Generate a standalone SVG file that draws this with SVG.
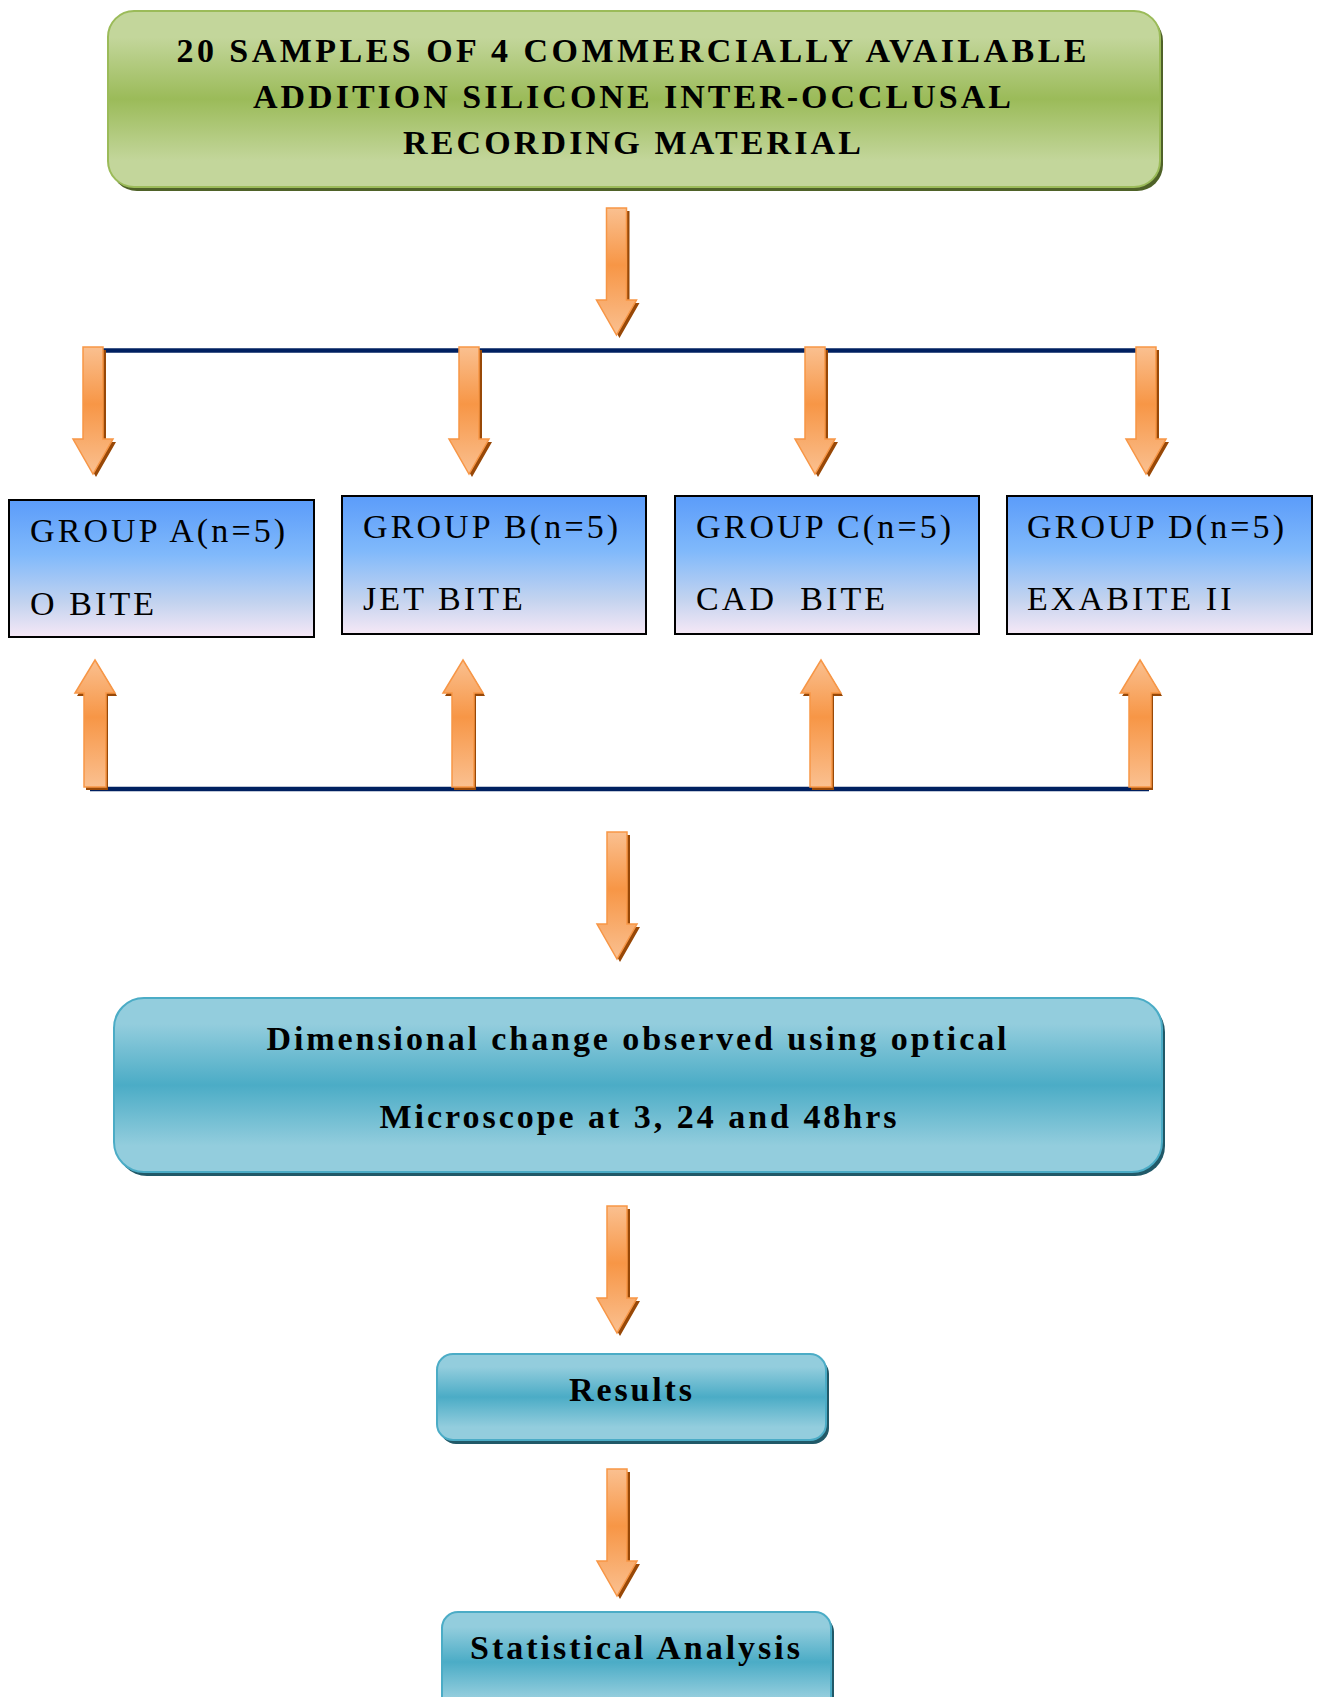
<svg xmlns="http://www.w3.org/2000/svg" xmlns:xlink="http://www.w3.org/1999/xlink" width="1320" height="1697" viewBox="0 0 1320 1697">
<style>
.bold{font-family:"Liberation Serif","Times New Roman",serif;font-weight:bold;font-size:34px;fill:#000}
.reg{font-family:"Liberation Serif","Times New Roman",serif;font-size:34px;letter-spacing:3.1px;fill:#000}
.grp{fill:url(#gBlue);stroke:#000;stroke-width:2}
.line{stroke:#002060;stroke-width:4.5;fill:none}
.arrow{fill:url(#gOrange);stroke:#f79646;stroke-width:1.5}
.ashadow{fill:#984807}
</style>
<defs>
<linearGradient id="gGreen" x1="0" y1="0" x2="0" y2="1">
<stop offset="0" stop-color="#c3d69b"/><stop offset="0.15" stop-color="#c3d69b"/><stop offset="0.5" stop-color="#9bbb59"/><stop offset="0.85" stop-color="#c3d69b"/><stop offset="1" stop-color="#c3d69b"/>
</linearGradient>
<linearGradient id="gTeal" x1="0" y1="0" x2="0" y2="1">
<stop offset="0" stop-color="#93cddd"/><stop offset="0.15" stop-color="#93cddd"/><stop offset="0.5" stop-color="#4bacc6"/><stop offset="0.85" stop-color="#93cddd"/><stop offset="1" stop-color="#93cddd"/>
</linearGradient>
<linearGradient id="gBlue" x1="0" y1="0" x2="0" y2="1">
<stop offset="0" stop-color="#5b9cfa"/><stop offset="0.4" stop-color="#80b9fb"/><stop offset="0.75" stop-color="#c3d3ef"/><stop offset="1" stop-color="#f6e8f6"/>
</linearGradient>
<linearGradient id="gOrange" x1="0" y1="0" x2="0" y2="1">
<stop offset="0" stop-color="#fac090"/><stop offset="0.45" stop-color="#f79646"/><stop offset="1" stop-color="#fac090"/>
</linearGradient>
<g id="arrowDown">
<path class="ashadow" d="M-7,3 H13 V95 H23 L3,130 L-17,95 H-7 Z"/>
<path class="arrow" d="M-10,0 H10 V92 H20 L0,127 L-20,92 H-10 Z"/>
</g>
<g id="arrowUp">
<path class="ashadow" d="M2,3 L22,36 H13 V130 H-9 V36 H-18 Z"/>
<path class="arrow" d="M0,0 L20,33 H11 V127 H-11 V33 H-20 Z"/>
</g>
</defs>
<rect width="1320" height="1697" fill="#fff"/>

<g id="connectors">
<line class="line" x1="100" y1="350.5" x2="1136" y2="350.5"/>
<line class="line" x1="90" y1="789" x2="1149" y2="789"/>
<use href="#arrowDown" x="616.5" y="208"/>
<use href="#arrowDown" x="93" y="347"/>
<use href="#arrowDown" x="469" y="347"/>
<use href="#arrowDown" x="815" y="347"/>
<use href="#arrowDown" x="1146" y="347"/>
<use href="#arrowUp" x="95" y="660"/>
<use href="#arrowUp" x="463" y="660"/>
<use href="#arrowUp" x="821" y="660"/>
<use href="#arrowUp" x="1140" y="660"/>
<use href="#arrowDown" x="617" y="832"/>
<use href="#arrowDown" x="617" y="1206"/>
<use href="#arrowDown" x="617" y="1469"/>
</g>

<g id="node-samples">
<rect x="111" y="15" width="1052" height="176" rx="26" fill="#4f6228"/>
<rect x="108" y="11" width="1052" height="176" rx="26" fill="url(#gGreen)" stroke="#9bbb59" stroke-width="2"/>
<text class="bold" x="631.5" y="62" text-anchor="middle" textLength="910" lengthAdjust="spacing">20 SAMPLES OF 4 COMMERCIALLY AVAILABLE</text>
<text class="bold" x="632" y="108" text-anchor="middle" textLength="758" lengthAdjust="spacing">ADDITION SILICONE INTER-OCCLUSAL</text>
<text class="bold" x="632" y="154" text-anchor="middle" textLength="458" lengthAdjust="spacing">RECORDING MATERIAL</text>
</g>

<g id="node-group-a">
<rect class="grp" x="9" y="500" width="305" height="137"/>
<text class="reg" x="30" y="542">GROUP A(n=5)</text>
<text class="reg" x="30" y="615">O BITE</text>
</g>
<g id="node-group-b">
<rect class="grp" x="342" y="496" width="304" height="138"/>
<text class="reg" x="363" y="538">GROUP B(n=5)</text>
<text class="reg" x="363" y="610">JET BITE</text>
</g>
<g id="node-group-c">
<rect class="grp" x="675" y="496" width="304" height="138"/>
<text class="reg" x="696" y="538">GROUP C(n=5)</text>
<text class="reg" x="696" y="610" xml:space="preserve">CAD  BITE</text>
</g>
<g id="node-group-d">
<rect class="grp" x="1007" y="496" width="305" height="138"/>
<text class="reg" x="1027" y="538">GROUP D(n=5)</text>
<text class="reg" x="1027" y="610">EXABITE II</text>
</g>

<g id="node-dimensional">
<rect x="117" y="1002" width="1048" height="174" rx="30" fill="#215968"/>
<rect x="114" y="998" width="1048" height="174" rx="30" fill="url(#gTeal)" stroke="#4bacc6" stroke-width="2"/>
<text class="bold" x="636.5" y="1050" text-anchor="middle" textLength="740" lengthAdjust="spacing">Dimensional change observed using optical</text>
<text class="bold" x="638" y="1128" text-anchor="middle" textLength="517" lengthAdjust="spacing">Microscope at 3, 24 and 48hrs</text>
</g>

<g id="node-results">
<rect x="440" y="1358" width="389" height="86" rx="16" fill="#215968"/>
<rect x="437" y="1354" width="389" height="86" rx="16" fill="url(#gTeal)" stroke="#4bacc6" stroke-width="2"/>
<text class="bold" x="630.5" y="1401" text-anchor="middle" textLength="123" lengthAdjust="spacing">Results</text>
</g>

<g id="node-statistics">
<rect x="445" y="1616" width="389" height="100" rx="16" fill="#215968"/>
<rect x="442" y="1612" width="389" height="100" rx="16" fill="url(#gTeal)" stroke="#4bacc6" stroke-width="2"/>
<text class="bold" x="635" y="1659" text-anchor="middle" textLength="330" lengthAdjust="spacing">Statistical Analysis</text>
</g>
</svg>
